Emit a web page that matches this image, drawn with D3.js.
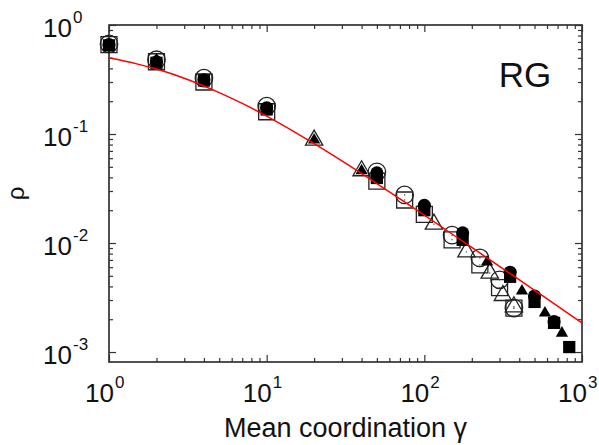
<!DOCTYPE html>
<html>
<head>
<meta charset="utf-8">
<script src="https://cdn.jsdelivr.net/npm/d3@7"></script>
<style>
  html, body { margin: 0; padding: 0; background: #fff; overflow: hidden; }
  svg { display: block; }
  text { font-family: "Liberation Sans", Arial, sans-serif; fill: #111; }
</style>
</head>
<body>
<div id="chart"></div>
<script>
// values (gamma, rho)
const openSquareG = [1, 2, 4, 10, 50, 75, 100, 150, 225, 300, 370];
const openSquareR = [0.66, 0.46, 0.30, 0.16, 0.037, 0.0248, 0.0183, 0.0107, 0.0063, 0.0039, 0.00253];

const openCircleG = [1, 2, 4, 10, 50, 75, 150, 225, 300, 370];
const openCircleR = [0.67, 0.48, 0.325, 0.18, 0.045, 0.0276, 0.0118, 0.0073, 0.0046, 0.00253];

const openTriG = [20, 40, 115, 185, 260, 315, 370];
const openTriR = [0.088, 0.046, 0.0149, 0.0083, 0.0053, 0.0033, 0.0026];

const fillTriG = [2, 20, 40, 250, 416, 582, 746];
const fillTriR = [0.48, 0.088, 0.046, 0.0067, 0.00363, 0.00228, 0.00149];

const fillCircleG = [1, 2, 4, 10, 50, 100, 175, 350, 500, 665];
const fillCircleR = [0.66, 0.46, 0.315, 0.174, 0.044, 0.0222, 0.0124, 0.0054, 0.00327, 0.0019];

const fillSquareG = [1, 2, 4, 10, 50, 100, 175, 350, 500, 665, 830];
const fillSquareR = [0.65, 0.45, 0.31, 0.168, 0.0395, 0.0200, 0.0107, 0.0049, 0.00288, 0.00185, 0.00111];

// red fitted curve
const fitG = [1, 1.5, 2, 3, 5, 7, 10, 20, 30, 50, 70, 100, 200, 300, 500, 700, 1000];
const fitR = [0.50, 0.44, 0.394, 0.325, 0.24, 0.191, 0.146, 0.0815, 0.0566, 0.0351, 0.0254, 0.018, 0.0091, 0.0061, 0.00368, 0.00264, 0.00185];

const xMajor = [1, 10, 100, 1000];
const yMajor = [1, 0.1, 0.01, 0.001];

const width = 599, height = 445;
const margin = {top: 25, right: 17, bottom: 83, left: 109};

const svg = d3.select("#chart").append("svg")
    .attr("width", width)
    .attr("height", height);

// scales work in page pixels directly
const xScale = d3.scaleLog().domain([1, 1000]).range([margin.left, width - margin.right]);
const yScale = d3.scaleLog().domain([8.1e-4, 1]).range([height - margin.bottom, margin.top]);
const x0 = margin.left, x1 = width - margin.right;
const y0 = height - margin.bottom, y1 = margin.top;

const zip = (a, b) => a.map((v, i) => [v, b[i]]);

// minor ticks 2..9 per decade
const minors = (lo, hi) => {
    const out = [];
    for (let e = lo; e < hi; e++)
        for (let k = 2; k <= 9; k++) out.push(k * Math.pow(10, e));
    return out;
};
const xMinor = minors(0, 3);
const yMinor = minors(-3, 0);

const frameColor = "#333";

const tickStyle = sel => {
    sel.select(".domain").remove();
    sel.selectAll("line").attr("stroke", frameColor).attr("stroke-width", 1.2);
    sel.selectAll("text").remove();
};

// inward ticks on all four sides
const axes = svg.append("g");
axes.append("g").attr("transform", `translate(0,${y0})`)
    .call(d3.axisBottom(xScale).tickValues(xMajor).tickSize(-7)).call(tickStyle);
axes.append("g").attr("transform", `translate(0,${y0})`)
    .call(d3.axisBottom(xScale).tickValues(xMinor).tickSize(-4)).call(tickStyle);
axes.append("g").attr("transform", `translate(0,${y1})`)
    .call(d3.axisTop(xScale).tickValues(xMajor).tickSize(-7)).call(tickStyle);
axes.append("g").attr("transform", `translate(0,${y1})`)
    .call(d3.axisTop(xScale).tickValues(xMinor).tickSize(-4)).call(tickStyle);
axes.append("g").attr("transform", `translate(${x0},0)`)
    .call(d3.axisLeft(yScale).tickValues(yMajor).tickSize(-7)).call(tickStyle);
axes.append("g").attr("transform", `translate(${x0},0)`)
    .call(d3.axisLeft(yScale).tickValues(yMinor).tickSize(-4)).call(tickStyle);
axes.append("g").attr("transform", `translate(${x1},0)`)
    .call(d3.axisRight(yScale).tickValues(yMajor).tickSize(-7)).call(tickStyle);
axes.append("g").attr("transform", `translate(${x1},0)`)
    .call(d3.axisRight(yScale).tickValues(yMinor).tickSize(-4)).call(tickStyle);

svg.append("rect")
    .attr("x", x0).attr("y", y1)
    .attr("width", x1 - x0)
    .attr("height", y0 - y1)
    .attr("fill", "none")
    .attr("stroke", frameColor)
    .attr("stroke-width", 1.7);

// power-of-ten tick labels: base "10" ends at bx, exponent starts just after
const powLabel = (v, bx, by) => {
    const e = Math.round(Math.log10(v));
    svg.append("text")
        .attr("x", bx).attr("y", by)
        .attr("text-anchor", "end")
        .style("font-size", "26px")
        .text("10");
    svg.append("text")
        .attr("x", bx + 1).attr("y", by - 14)
        .attr("text-anchor", "start")
        .style("font-size", "17px")
        .text(e);
};

xMajor.forEach(v => powLabel(v, xScale(v) + 5, y0 + 40));
yMajor.forEach(v => powLabel(v, x0 - 37, yScale(v) + 12));

// axis labels
svg.append("text")
    .attr("x", (x0 + x1) / 2)
    .attr("y", 437)
    .attr("text-anchor", "middle")
    .style("font-size", "27px")
    .text("Mean coordination \u03b3");

svg.append("text")
    .attr("transform", `translate(24,${(y0 + y1) / 2}) rotate(-90)`)
    .attr("text-anchor", "middle")
    .style("font-size", "24px")
    .text("\u03c1");

svg.append("text")
    .attr("x", 525)
    .attr("y", 87)
    .attr("text-anchor", "middle")
    .style("font-size", "35px")
    .text("RG");

// markers
const series = [
    {g: openSquareG, r: openSquareR, type: d3.symbolSquare, size: 256, fill: "none"},
    {g: openCircleG, r: openCircleR, type: d3.symbolCircle, size: 240, fill: "none"},
    {g: openTriG, r: openTriR, type: d3.symbolTriangle, size: 130, fill: "none"},
    {g: fillCircleG, r: fillCircleR, type: d3.symbolCircle, size: 135, fill: "#000"},
    {g: fillSquareG, r: fillSquareR, type: d3.symbolSquare, size: 150, fill: "#000"},
    {g: fillTriG, r: fillTriR, type: d3.symbolTriangle, size: 65, fill: "#000"}
];

series.forEach(s => {
    const pts = zip(s.g, s.r);
    const sym = d3.symbol().type(s.type).size(s.size);
    svg.append("g").selectAll("path")
        .data(pts)
        .join("path")
        .attr("transform", d => `translate(${xScale(d[0])},${yScale(d[1])})`)
        .attr("d", sym)
        .attr("fill", s.fill)
        .attr("stroke", s.fill === "none" ? "#222" : "none")
        .attr("stroke-width", 1.3);
    if (s.fill === "none") {
        // tiny centre dot of the open markers
        svg.append("g").selectAll("circle")
            .data(pts)
            .join("circle")
            .attr("cx", d => xScale(d[0]))
            .attr("cy", d => yScale(d[1]))
            .attr("r", 0.7)
            .attr("fill", "#444");
    }
});

const lineGenerator = d3.line()
    .x(d => xScale(d[0]))
    .y(d => yScale(d[1]))
    .curve(d3.curveMonotoneX);

svg.append("path")
    .attr("d", lineGenerator(zip(fitG, fitR)))
    .attr("fill", "none")
    .attr("stroke", "#f00")
    .attr("stroke-width", 1.5);
</script>
</body>
</html>
